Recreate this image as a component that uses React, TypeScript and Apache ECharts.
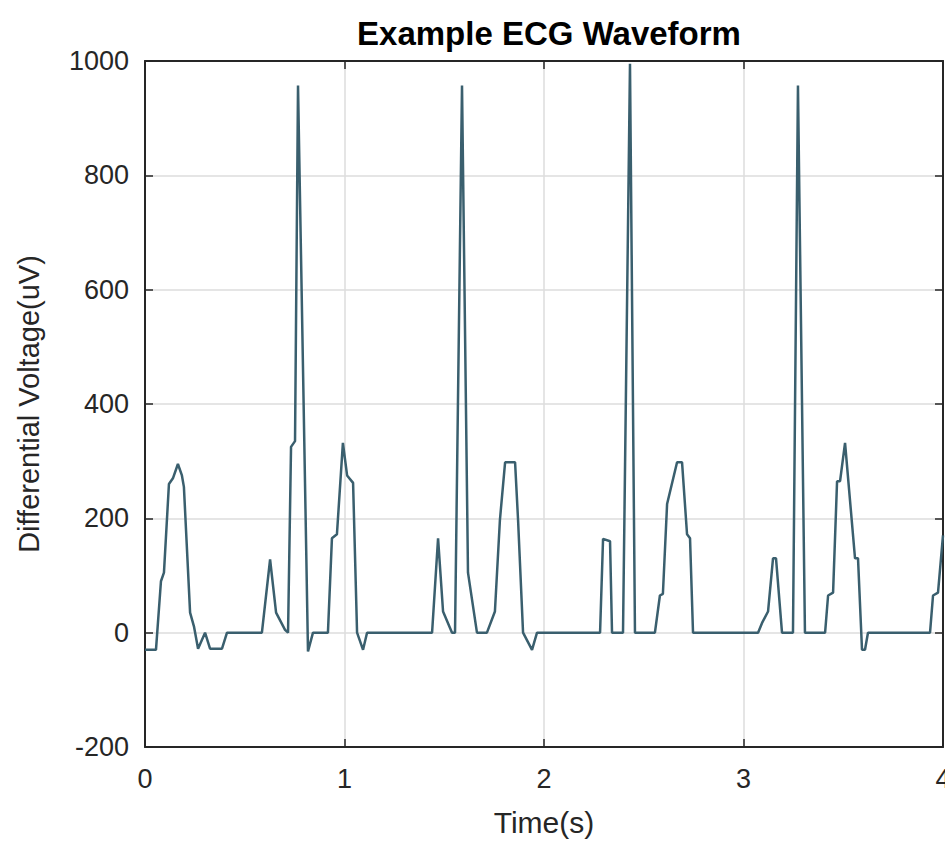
import React, { useEffect, useRef } from "react";
import * as echarts from "echarts";

const timeS: number[] = [
  0, 0.055, 0.08, 0.095, 0.12, 0.14, 0.165, 0.185, 0.195, 0.226, 0.246, 0.266, 0.301, 0.326, 0.386, 0.411,
  0.586, 0.627, 0.657, 0.702, 0.717, 0.732, 0.752, 0.767, 0.817, 0.842, 0.917, 0.937, 0.962, 0.992, 1.013,
  1.043, 1.063, 1.093, 1.113,
  1.439, 1.469, 1.494, 1.539, 1.554, 1.589, 1.619, 1.664, 1.714, 1.754, 1.779, 1.805, 1.855, 1.87, 1.895,
  1.94, 1.965,
  2.281, 2.296, 2.331, 2.341, 2.396, 2.431, 2.456, 2.556, 2.581, 2.596, 2.617, 2.667, 2.692, 2.717, 2.732,
  2.747,
  3.073, 3.093, 3.123, 3.148, 3.163, 3.193, 3.248, 3.273, 3.308, 3.409, 3.424, 3.449, 3.469, 3.484, 3.509,
  3.559, 3.574, 3.594, 3.609, 3.624, 3.935, 3.95, 3.975, 4.0,
];

const voltageUV: number[] = [
  -30, -30, 90, 105, 260, 270, 295, 275, 255, 35, 10, -28, 0, -28, -28, 0,
  0, 128, 35, 5, 0, 325, 335, 957, -33, 0, 0, 165, 172, 332, 275,
  262, 0, -30, 0,
  0, 165, 37, 0, 0, 957, 105, 0, 0, 37, 197, 298, 298, 197, 0,
  -30, 0,
  0, 164, 160, 0, 0, 995, 0, 0, 65, 68, 225, 298, 298, 172, 165,
  0,
  0, 17, 37, 130, 130, 0, 0, 957, 0, 0, 65, 70, 265, 265, 332,
  130, 130, -30, -30, 0, 0, 65, 70, 170,
];

const xTicks: number[] = [0, 1, 2, 3, 4];
const yTicks: number[] = [-200, 0, 200, 400, 600, 800, 1000];

const FONT = "'Liberation Sans', Arial, Helvetica, sans-serif";
const AXIS_COLOR = "#262626";

export default function App() {
  const ref = useRef<HTMLDivElement>(null);

  useEffect(() => {
    if (!ref.current) return;
    const chart = echarts.init(ref.current, undefined, { renderer: "svg" });
    const data = timeS.map((t, i) => [t, voltageUV[i]]);

    const commonLine = { show: true, onZero: false, lineStyle: { color: AXIS_COLOR, width: 2 } };
    const commonTick = { show: true, inside: true, length: 8, lineStyle: { color: AXIS_COLOR, width: 1.5 } };
    const plain = (v: number) => String(v);

    chart.setOption({
      animation: false,
      backgroundColor: "#ffffff",
      title: {
        text: "Example ECG Waveform",
        left: 544,
        textAlign: "center",
        top: 12,
        textStyle: { fontFamily: FONT, fontWeight: "bold", fontSize: 33, color: "#000000" },
      },
      grid: { left: 145, right: 2, top: 61, bottom: 96, containLabel: false, outerBoundsMode: "none" },
      xAxis: [
        {
          type: "value",
          min: xTicks[0],
          max: xTicks[xTicks.length - 1],
          interval: 1,
          position: "bottom",
          name: "Time(s)",
          nameLocation: "middle",
          nameGap: 60,
          nameTextStyle: { fontFamily: FONT, fontSize: 30, color: AXIS_COLOR },
          axisLine: commonLine,
          axisTick: commonTick,
          axisLabel: { fontFamily: FONT, fontSize: 27, color: AXIS_COLOR, margin: 18, formatter: plain },
          splitLine: { show: true, lineStyle: { color: "#dcdcdc", width: 1.5 } },
        },
        {
          type: "value",
          min: xTicks[0],
          max: xTicks[xTicks.length - 1],
          interval: 1,
          position: "top",
          axisLine: commonLine,
          axisTick: commonTick,
          axisLabel: { show: false },
          splitLine: { show: false },
        },
      ],
      yAxis: [
        {
          type: "value",
          min: yTicks[0],
          max: yTicks[yTicks.length - 1],
          interval: 200,
          position: "left",
          name: "Differential Voltage(uV)",
          nameLocation: "middle",
          nameGap: 102,
          nameTextStyle: { fontFamily: FONT, fontSize: 29, color: AXIS_COLOR },
          axisLine: commonLine,
          axisTick: commonTick,
          axisLabel: { fontFamily: FONT, fontSize: 27, color: AXIS_COLOR, margin: 16, formatter: plain },
          splitLine: { show: true, lineStyle: { color: "#dcdcdc", width: 1.5 } },
        },
        {
          type: "value",
          min: yTicks[0],
          max: yTicks[yTicks.length - 1],
          interval: 200,
          position: "right",
          axisLine: commonLine,
          axisTick: commonTick,
          axisLabel: { show: false },
          splitLine: { show: false },
        },
      ],
      series: [
        {
          type: "line",
          data,
          xAxisIndex: 0,
          yAxisIndex: 0,
          showSymbol: false,
          symbol: "none",
          lineStyle: { color: "#3a5f6e", width: 2.5 },
        },
      ],
    });

    return () => chart.dispose();
  }, []);

  return (
    <div
      ref={ref}
      style={{ position: "absolute", left: 0, top: 0, width: 945, height: 843, background: "#fff" }}
    />
  );
}
